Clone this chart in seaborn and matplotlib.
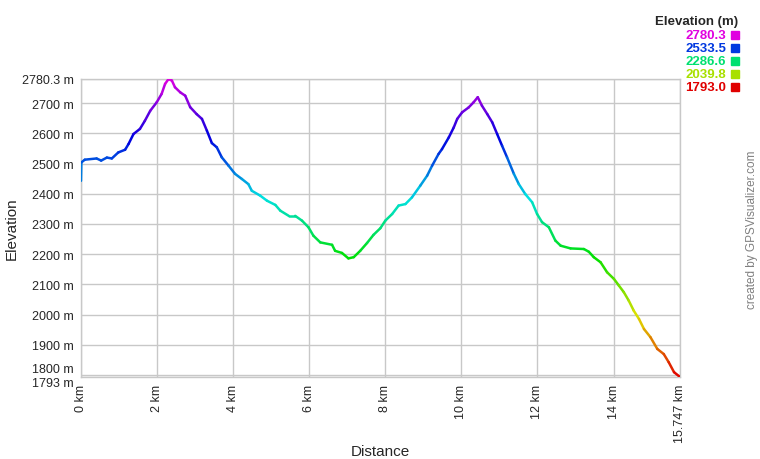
import colorsys
import numpy as np
import matplotlib
matplotlib.use("Agg")
import matplotlib.pyplot as plt
import seaborn as sns
from matplotlib.collections import LineCollection
from matplotlib.patches import Rectangle

# profile
distance_km = [0.0, 0.01, 0.1, 0.41, 0.53, 0.68, 0.81, 0.98, 1.16, 1.25, 1.38, 1.55, 1.68,
               1.82, 1.99, 2.12, 2.21, 2.30, 2.39, 2.47, 2.61, 2.74, 2.87, 3.04, 3.18, 3.31,
               3.44, 3.57, 3.70, 3.88, 4.05, 4.23, 4.40, 4.49, 4.71, 4.89, 5.11, 5.24, 5.46,
               5.63, 5.81, 5.98, 6.11, 6.29, 6.60, 6.68, 6.86, 7.03, 7.17, 7.34, 7.52, 7.69,
               7.87, 8.0, 8.18, 8.35, 8.53, 8.70, 8.92, 9.10, 9.23, 9.40, 9.49, 9.67, 9.80,
               9.89, 10.02, 10.19, 10.32, 10.43, 10.54, 10.68, 10.81, 10.94, 11.07, 11.20,
               11.38, 11.51, 11.68, 11.86, 11.99, 12.12, 12.30, 12.47, 12.61, 12.87, 13.22,
               13.35, 13.48, 13.66, 13.83, 14.01, 14.14, 14.27, 14.40, 14.53, 14.67, 14.80,
               14.97, 15.15, 15.32, 15.45, 15.59, 15.747]
elevation_m = [2443, 2504, 2513, 2517, 2510, 2520, 2517, 2537, 2546, 2565, 2598, 2615, 2642,
               2675, 2703, 2731, 2764, 2780, 2775, 2753, 2736, 2725, 2687, 2664, 2648, 2609,
               2568, 2554, 2521, 2493, 2466, 2449, 2432, 2410, 2394, 2377, 2363, 2344, 2327,
               2327, 2311, 2289, 2261, 2239, 2231, 2211, 2204, 2186, 2190, 2211, 2237, 2264,
               2286, 2311, 2333, 2361, 2366, 2388, 2427, 2460, 2493, 2532, 2548, 2587, 2620,
               2648, 2670, 2686, 2703, 2720, 2692, 2664, 2637, 2598, 2559, 2521, 2466, 2432,
               2399, 2372, 2333, 2306, 2289, 2245, 2228, 2219, 2217, 2208, 2190, 2173, 2140,
               2118, 2096, 2074, 2046, 2013, 1985, 1952, 1925, 1886, 1869, 1842, 1809, 1793]

y_ticks = [1793, 1800, 1900, 2000, 2100, 2200, 2300, 2400, 2500, 2600, 2700, 2780.3]
y_labels = ["1793 m", "1800 m", "1900 m", "2000 m", "2100 m", "2200 m", "2300 m",
            "2400 m", "2500 m", "2600 m", "2700 m", "2780.3 m"]
x_ticks = [0, 2, 4, 6, 8, 10, 12, 14, 15.747]
x_labels = ["0 km", "2 km", "4 km", "6 km", "8 km", "10 km", "12 km", "14 km", "15.747 km"]
legend_values = [2780.3, 2533.5, 2286.6, 2039.8, 1793.0]

e_min, e_max = 1793.0, 2780.3


def elev_color(v):
    frac = (v - e_min) / (e_max - e_min)
    return colorsys.hsv_to_rgb(frac * 300 / 360, 1.0, 0.88)


sns.set_style("white")
plt.rcParams["font.family"] = ["Liberation Sans", "DejaVu Sans"]

fig = plt.figure(figsize=(7.6, 4.6), dpi=100)
ax = fig.add_axes([81 / 760, 1 - 378 / 460, 599 / 760, 298 / 460])

pts = np.column_stack([distance_km, elevation_m])
segs = np.stack([pts[:-1], pts[1:]], axis=1)
mids = (np.array(elevation_m[:-1]) + np.array(elevation_m[1:])) / 2
lc = LineCollection(segs, colors=[elev_color(v) for v in mids], linewidths=1.8,
                    capstyle="round", joinstyle="round", zorder=3)
ax.add_collection(lc)

ax.set_xlim(0, 15.747)
ax.set_ylim(e_min, e_max)
ax.set_yticks(y_ticks)
ax.set_yticklabels(y_labels, fontsize=9)
ax.set_xticks(x_ticks)
ax.set_xticklabels(x_labels, fontsize=9, rotation=90)
ax.grid(True, color="#c8c8c8", linewidth=1)
ax.tick_params(axis="both", length=3, color="#c8c8c8", pad=2)
for s in ax.spines.values():
    s.set_color("#c8c8c8")
    s.set_linewidth(1)

# the two bottom labels are pushed apart so they do not collide
ylab = ax.get_yticklabels()
ylab[0].set_va("top")
ylab[1].set_va("bottom")

ax.set_xlabel("Distance", fontsize=11)
ax.set_ylabel("Elevation", fontsize=11)
ax.xaxis.set_label_coords(0.5, -(452 - 378) / 298)
ax.yaxis.set_label_coords(-(81 - 12) / 599, 0.5)
ax.xaxis.label.set_va("center")
ax.yaxis.label.set_va("center")

# legend on the top right
fig.text(738 / 760, 1 - 22 / 460, "Elevation (m)", ha="right", va="center",
         fontsize=9.5, fontweight="bold")
for i, v in enumerate(legend_values):
    yc = 36 + i * 13
    c = elev_color(v)
    fig.text(726 / 760, 1 - yc / 460, f"{v:.1f}", ha="right", va="center",
             fontsize=9.5, fontweight="bold", color=c)
    fig.patches.append(Rectangle((731 / 760, 1 - (yc + 4) / 460), 8 / 760, 8 / 460,
                                 transform=fig.transFigure, color=c))

fig.text(752 / 760, 1 - 230 / 460, "created by GPSVisualizer.com", rotation=90,
         ha="center", va="center", fontsize=8.5, color="#808080")

fig.savefig("out.png", dpi=100)
